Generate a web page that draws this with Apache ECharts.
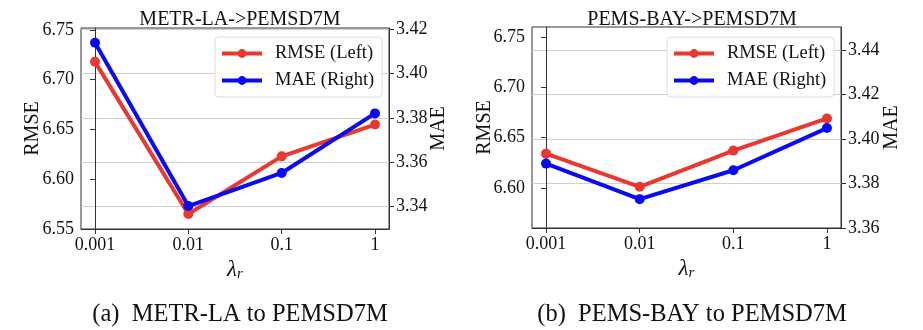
<!DOCTYPE html>
<html><head><meta charset="utf-8">
<script src="https://cdn.jsdelivr.net/npm/echarts@6/dist/echarts.min.js"></script>
<style>html,body{margin:0;padding:0;background:#fff}#c{width:923px;height:330px}</style>
</head><body><div id="c"></div>
<script>
const xLabels = ['0.001', '0.01', '0.1', '1'];
const rmseA = [6.718, 6.565, 6.623, 6.655];
const maeA = [3.414, 3.340, 3.355, 3.382];
const rmseB = [6.634, 6.601, 6.637, 6.669];
const maeB = [3.389, 3.373, 3.386, 3.405];
const rmseTicksA = [6.55, 6.60, 6.65, 6.70, 6.75];
const maeTicksA = [3.34, 3.36, 3.38, 3.40, 3.42];
const rmseTicksB = [6.60, 6.65, 6.70, 6.75];
const maeTicksB = [3.36, 3.38, 3.40, 3.42, 3.44];
const titles = ['METR-LA->PEMSD7M', 'PEMS-BAY->PEMSD7M'];
const captions = ['(a)  METR-LA to PEMSD7M', '(b)  PEMS-BAY to PEMSD7M'];
const names = ['RMSE (Left)', 'MAE (Right)'];

const FONT = '"Liberation Serif", "Times New Roman", serif';
const RED = '#e8382f', BLUE = '#0a0af2';
const AX = '#333';
const xIdx = xLabels.map((_, i) => i);

function xAxis(gi) {
  return {
    type: 'value', gridIndex: gi, min: -0.15, max: 3.15,
    axisLine: {show: true, lineStyle: {color: AX, width: 1}},
    axisTick: {show: true, length: 5, lineStyle: {color: AX}, customValues: xIdx},
    axisLabel: {customValues: xIdx, formatter: v => xLabels[Math.round(v)], fontFamily: FONT, fontSize: 18, color: '#111', margin: 7},
    splitLine: {show: false},
    name: '{a|λ}{b|r}', nameLocation: 'middle', nameGap: 26,
    nameTextStyle: {rich: {a: {fontFamily: FONT, fontStyle: 'italic', fontSize: 23, color: '#111'}, b: {fontFamily: FONT, fontStyle: 'italic', fontSize: 15, color: '#111', verticalAlign: 'bottom', padding: [8, 0, 0, 0]}}}
  };
}
function yAxis(gi, pos, min, max, ticks, name, gap, split) {
  return {
    type: 'value', gridIndex: gi, position: pos, min: min, max: max,
    axisLine: {show: true, lineStyle: {color: AX, width: 1}},
    axisTick: {show: true, length: 5, lineStyle: {color: AX}, customValues: ticks},
    axisLabel: {customValues: ticks, formatter: v => v.toFixed(2), fontFamily: FONT, fontSize: 18, color: '#111', margin: 7},
    splitLine: {show: split, lineStyle: {color: '#cfcfcf', width: 1}},
    name: name, nameLocation: 'middle', nameRotate: 90, nameGap: gap, nameMoveOverlap: false,
    nameTextStyle: {fontFamily: FONT, fontSize: 20, color: '#111'}
  };
}
function series(name, xi, yi, vals, color) {
  return {
    name: name, type: 'line', xAxisIndex: xi, yAxisIndex: yi,
    data: xIdx.map(i => [i, vals[i]]),
    symbol: 'circle', symbolSize: 10, showSymbol: true,
    lineStyle: {width: 4, color: color}, itemStyle: {color: color},
    animation: false
  };
}
function legend(left) {
  return {
    data: names, orient: 'vertical', left: left, top: 37,
    itemWidth: 40, itemHeight: 11, itemGap: 8, selectedMode: false,
    lineStyle: {width: 4},
    backgroundColor: 'rgba(255,255,255,0.85)', borderColor: '#dcdcdc', borderWidth: 1, borderRadius: 4,
    padding: [7, 8, 7, 5],
    textStyle: {fontFamily: FONT, fontSize: 18.5, color: '#111', padding: [0, 0, 0, 8]}
  };
}

const option = {
  animation: false,
  backgroundColor: '#fff',
  title: [
    {text: titles[0], left: 235, textAlign: 'center', top: 5, textStyle: {fontFamily: FONT, fontSize: 20, fontWeight: 'normal', color: '#111'}},
    {text: titles[1], left: 687, textAlign: 'center', top: 5, textStyle: {fontFamily: FONT, fontSize: 20, fontWeight: 'normal', color: '#111'}},
    {text: captions[0], left: 235, textAlign: 'center', top: 297, textStyle: {fontFamily: FONT, fontSize: 24.5, fontWeight: 'normal', color: '#111'}},
    {text: captions[1], left: 687, textAlign: 'center', top: 297, textStyle: {fontFamily: FONT, fontSize: 24.5, fontWeight: 'normal', color: '#111'}}
  ],
  legend: [legend(215), legend(667)],
  grid: [
    {left: 81, top: 28, width: 308, height: 201, show: true, borderColor: AX, borderWidth: 1, backgroundColor: 'transparent'},
    {left: 532, top: 27, width: 309, height: 201, show: true, borderColor: AX, borderWidth: 1, backgroundColor: 'transparent'}
  ],
  xAxis: [xAxis(0), xAxis(1)],
  yAxis: [
    yAxis(0, 'left', 6.55, 6.752, rmseTicksA, 'RMSE', 38, false),
    yAxis(0, 'right', 3.3296, 3.4207, maeTicksA, 'MAE', 40, true),
    yAxis(1, 'left', 6.56, 6.76, rmseTicksB, 'RMSE', 37, false),
    yAxis(1, 'right', 3.36, 3.4505, maeTicksB, 'MAE', 41, true)
  ],
  series: [
    series(names[0], 0, 0, rmseA, RED),
    series(names[1], 0, 1, maeA, BLUE),
    series(names[0], 1, 2, rmseB, RED),
    series(names[1], 1, 3, maeB, BLUE)
  ]
};
const chart = echarts.init(document.getElementById('c'), null, {renderer: 'canvas'});
chart.setOption(option);
</script></body></html>
